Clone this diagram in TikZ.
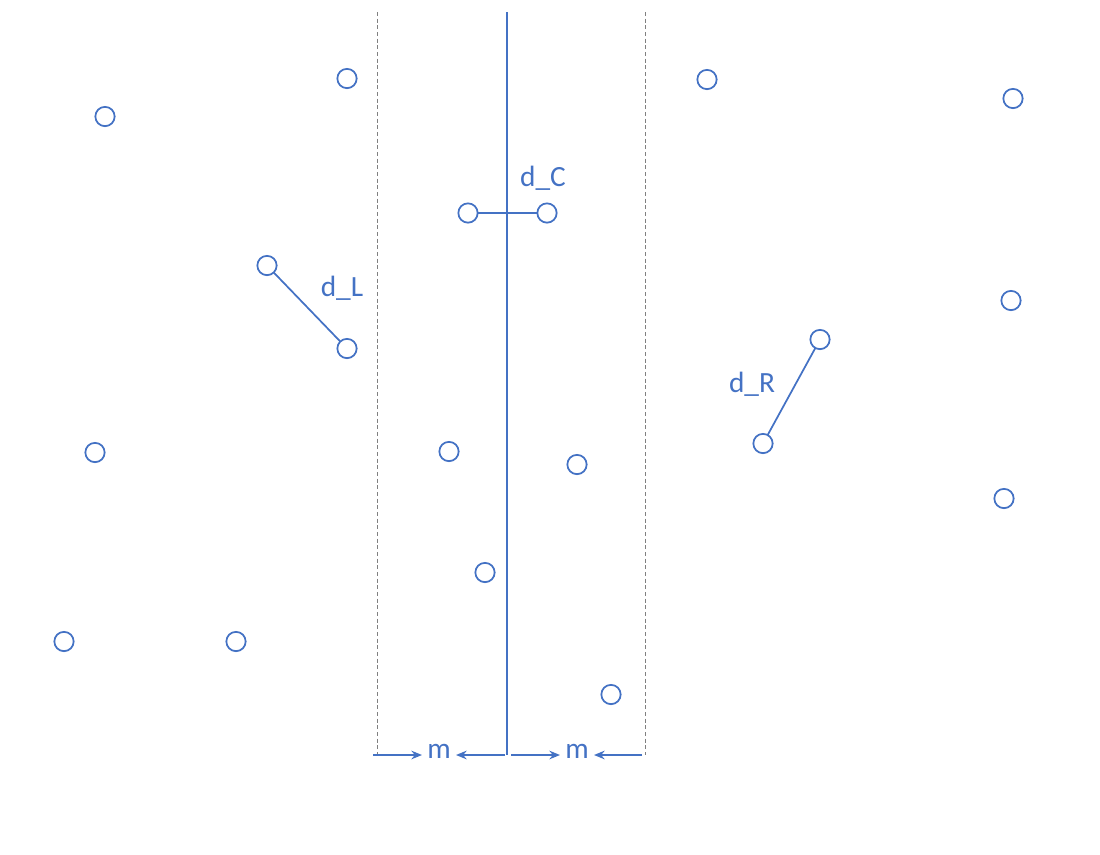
\documentclass[tikz,border=0pt]{standalone}
\usepackage{fontspec}
\setmainfont{Carlito}
\usetikzlibrary{arrows.meta}
\definecolor{bl}{HTML}{4472C4}
\begin{document}
\begin{tikzpicture}[x=0.75pt,y=-0.75pt,
  pt/.style={circle,draw=bl,line width=1.3pt,minimum size=14.5pt,inner sep=0pt,fill=white},
  conn/.style={draw=bl,line width=1.3pt},
  lab/.style={text=bl,font=\fontsize{22}{26}\selectfont,inner sep=0pt},
  dl/.style={draw=gray,line width=0.6pt,dash pattern=on 3pt off 2pt},
  arr/.style={draw=bl,line width=1.2pt,-{Stealth[length=8pt,width=6.5pt]}}]
\useasboundingbox (0,0) rectangle (1100,854);
% vertical lines
\coordinate (ct) at (507,12); \coordinate (cb) at (507,755);
\coordinate (lt) at (377,12); \coordinate (lb) at (377,755);
\coordinate (rt) at (645,12); \coordinate (rb) at (645,755);
\draw[dl] (lt) -- (lb);
\draw[dl] (rt) -- (rb);
\draw[draw=bl,line width=1.5pt] (ct) -- (cb);
% connectors first, then points
\coordinate (cA) at (468,213); \coordinate (cB) at (547,213);
\coordinate (lA) at (267,265.5); \coordinate (lB) at (347,348.5);
\coordinate (rA) at (820,339.5); \coordinate (rB) at (763,443.5);
\draw[conn] (cA) -- (cB);
\draw[conn] (lA) -- (lB);
\draw[conn] (rA) -- (rB);
\node[pt] (p1) at (105,116.5) {};
\node[pt] (p2) at (347,78.5) {};
\node[pt] (p3) at (707,79.5) {};
\node[pt] (p4) at (1013,98.5) {};
\node[pt] (p5) at (cA) {};
\node[pt] (p6) at (cB) {};
\node[pt] (p7) at (lA) {};
\node[pt] (p8) at (lB) {};
\node[pt] (p9) at (1011,300.5) {};
\node[pt] (p10) at (rA) {};
\node[pt] (p11) at (rB) {};
\node[pt] (p12) at (95,452.5) {};
\node[pt] (p13) at (449,451.5) {};
\node[pt] (p14) at (577,464.5) {};
\node[pt] (p15) at (1004,498.5) {};
\node[pt] (p16) at (485,572.5) {};
\node[pt] (p17) at (64,641.5) {};
\node[pt] (p18) at (236,641.5) {};
\node[pt] (p19) at (611,694.5) {};
% labels
\node[lab] (dC) at (543,178) {d\_C};
\node[lab] (dL) at (342,288) {d\_L};
\node[lab] (dR) at (752,384) {d\_R};
% margin arrows
\node[lab] (m1) at (439,751) {m};
\node[lab] (m2) at (577,751) {m};
\coordinate (a1s) at (373,755); \coordinate (a1e) at (422,755);
\coordinate (a2s) at (505,755); \coordinate (a2e) at (456,755);
\coordinate (a3s) at (511,755); \coordinate (a3e) at (560,755);
\coordinate (a4s) at (642,755); \coordinate (a4e) at (594,755);
\draw[arr] (a1s) -- (a1e);
\draw[arr] (a2s) -- (a2e);
\draw[arr] (a3s) -- (a3e);
\draw[arr] (a4s) -- (a4e);
\end{tikzpicture}
\end{document}
